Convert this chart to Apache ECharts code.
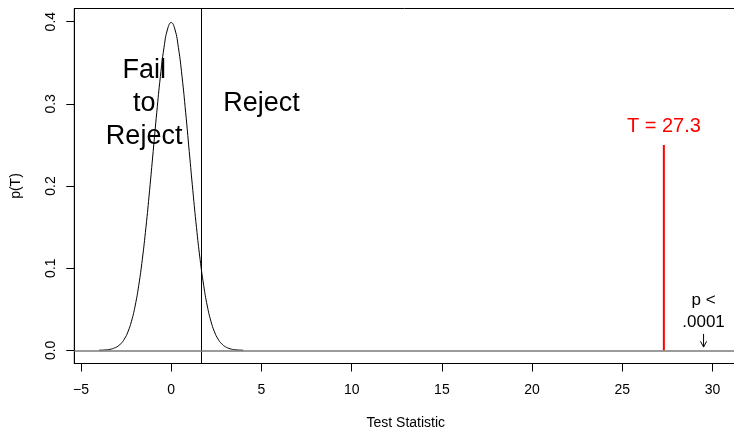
<!DOCTYPE html>
<html>
<head>
<meta charset="utf-8">
<script src="https://cdn.jsdelivr.net/npm/echarts@6/dist/echarts.min.js"></script>
<style>
html,body{margin:0;padding:0;background:#fff;}
#chart{width:734px;height:430px;}
</style>
</head>
<body>
<div id="chart"></div>
<script>
// Standard normal density curve
const curveX = [-4.0,-3.8,-3.6,-3.4,-3.2,-3.0,-2.8,-2.6,-2.4,-2.2,-2.0,-1.8,-1.6,-1.4,-1.2,-1.0,-0.8,-0.6,-0.4,-0.2,0.0,
                 0.2,0.4,0.6,0.8,1.0,1.2,1.4,1.6,1.8,2.0,2.2,2.4,2.6,2.8,3.0,3.2,3.4,3.6,3.8,4.0];
const curveY = [0.0001,0.0003,0.0006,0.0012,0.0024,0.0044,0.0079,0.0136,0.0224,0.0355,0.0540,0.0790,0.1109,0.1497,0.1942,0.2420,0.2897,0.3332,0.3683,0.3910,0.3989,
                 0.3910,0.3683,0.3332,0.2897,0.2420,0.1942,0.1497,0.1109,0.0790,0.0540,0.0355,0.0224,0.0136,0.0079,0.0044,0.0024,0.0012,0.0006,0.0003,0.0001];
const criticalValue = 1.645;
const testStat = 27.3;
const testStatHeight = 0.25;
const xTicks = [-5, 0, 5, 10, 15, 20, 25, 30];
const yTicks = [0, 0.1, 0.2, 0.3, 0.4];
const xRange = [-5.37, 31.37];
const yRange = [-0.016, 0.416];
// annotations [x, y, text]
const bigLabels = [[-1.5, 0.3, 'Fail\nto\nReject'], [5.0, 0.3, 'Reject']];
const statLabel = [[27.3, 0.273, 'T = 27.3']];
const pLabel = [[29.5, 0.0475, 'p <\n.0001']];
const arrowX = 29.5, arrowFrom = 0.020, arrowTo = 0.004;

const chart = echarts.init(document.getElementById('chart'), null, {renderer: 'canvas'});
const font = 'Liberation Sans, Arial, Helvetica, sans-serif';
const fmtNum = v => String(v).replace('-', '\u2212');

function textSeries(data, size, color, lh) {
  return {
    type: 'scatter', data: data, symbolSize: 0, silent: true, z: 10,
    itemStyle: {opacity: 1},
    label: {show: true, position: 'inside', formatter: p => p.data[2], opacity: 1,
      fontSize: size, fontFamily: font, color: color, lineHeight: lh, align: 'center'}
  };
}

const option = {
  animation: false,
  backgroundColor: '#fff',
  grid: {left: 74.3, top: 8.5, width: 663, height: 355, outerBoundsMode: 'none', containLabel: false,
         show: true, borderColor: '#000', borderWidth: 1, backgroundColor: 'transparent'},
  xAxis: {
    type: 'value', min: xRange[0], max: xRange[1],
    name: 'Test Statistic', nameLocation: 'middle', nameGap: 53,
    nameTextStyle: {fontSize: 14, fontFamily: font, color: '#000'},
    axisLine: {show: true, onZero: false, lineStyle: {color: '#000'}},
    axisTick: {show: true, length: 8, customValues: xTicks, lineStyle: {color: '#000'}},
    axisLabel: {customValues: xTicks, formatter: fmtNum, fontSize: 14, fontFamily: font, color: '#000', margin: 20},
    splitLine: {show: false}
  },
  yAxis: {
    type: 'value', min: yRange[0], max: yRange[1],
    name: 'p(T)', nameLocation: 'middle', nameGap: 51,
    nameTextStyle: {fontSize: 14, fontFamily: font, color: '#000'},
    axisLine: {show: true, onZero: false, lineStyle: {color: '#000'}},
    axisTick: {show: true, length: 8, customValues: yTicks, lineStyle: {color: '#000'}},
    axisLabel: {customValues: yTicks, formatter: v => v.toFixed(1), rotate: 90, fontSize: 14, fontFamily: font, color: '#000', margin: 16},
    splitLine: {show: false}
  },
  series: [
    {
      type: 'line', data: curveX.map((x, i) => [x, curveY[i]]), smooth: true, showSymbol: false, silent: true,
      lineStyle: {color: '#000', width: 1},
      markLine: {
        silent: true, symbol: ['none', 'none'], label: {show: false},
        data: [
          {xAxis: criticalValue, lineStyle: {color: '#000', width: 1, type: 'solid'}},
          {yAxis: 0, lineStyle: {color: '#7a7a7a', width: 1.5, type: 'solid'}}
        ]
      }
    },
    {
      type: 'line', data: [[testStat, 0], [testStat, testStatHeight]], showSymbol: false, silent: true,
      lineStyle: {color: '#ff0000', width: 2}, z: 5
    },
    {
      type: 'line', data: [[arrowX, arrowFrom], [arrowX, arrowTo]], showSymbol: false, silent: true,
      lineStyle: {color: '#000', width: 1}
    },
    {
      type: 'line', data: [[arrowX - 0.17, arrowTo + 0.007], [arrowX, arrowTo], [arrowX + 0.17, arrowTo + 0.007]], showSymbol: false, silent: true,
      lineStyle: {color: '#000', width: 1}
    },
    textSeries(bigLabels, 27, '#000', 33),
    textSeries(statLabel, 20, '#ff0000', 24),
    textSeries(pLabel, 17, '#000', 22)
  ]
};
chart.setOption(option);
</script>
</body>
</html>
